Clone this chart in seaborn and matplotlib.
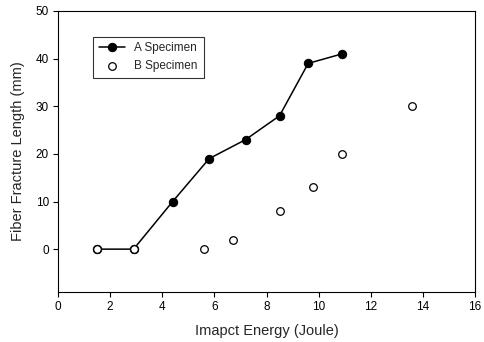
import matplotlib
matplotlib.use("Agg")
import matplotlib.pyplot as plt
import seaborn as sns
import pandas as pd

a_energy = [1.5, 2.9, 4.4, 5.8, 7.2, 8.5, 9.6, 10.9]
a_length = [0, 0, 10, 19, 23, 28, 39, 41]
b_energy = [1.5, 2.9, 5.6, 6.7, 8.5, 9.8, 10.9, 13.6]
b_length = [0, 0, 0, 2, 8, 13, 20, 30]
x_ticks = [0, 2, 4, 6, 8, 10, 12, 14, 16]
y_ticks = [0, 10, 20, 30, 40, 50]

sns.set_style("white")
plt.rcParams['font.family'] = ['Liberation Sans', 'DejaVu Sans']

fig = plt.figure(figsize=(4.84, 3.42), dpi=100)
ax = fig.add_axes([58/484, 1-292/342, (475-58)/484, (292-11)/342])

da = pd.DataFrame({"x": a_energy, "y": a_length})
db = pd.DataFrame({"x": b_energy, "y": b_length})

sns.lineplot(data=da, x="x", y="y", ax=ax, color="black", linewidth=1.1,
             marker="o", markersize=6, markerfacecolor="black",
             markeredgecolor="black", label="A Specimen", zorder=2)
sns.scatterplot(data=db, x="x", y="y", ax=ax, s=30, facecolor="white",
                edgecolor="black", linewidth=0.9, label="B Specimen", zorder=3)

ax.set_xlim(0, 16)
ax.set_ylim(-9, 50)
ax.set_xticks(x_ticks)
ax.set_yticks(y_ticks)
ax.tick_params(bottom=True, left=True, direction="out", length=3.5, width=0.8,
               labelsize=8.5, colors="black", pad=3)
for s in ax.spines.values():
    s.set_color("black")
    s.set_linewidth(0.8)
ax.set_xlabel("Imapct Energy (Joule)", fontsize=10.5, labelpad=8)
ax.set_ylabel("Fiber Fracture Length (mm)", fontsize=10.5, labelpad=8)

leg = ax.legend(loc="upper left", bbox_to_anchor=(0.07, 0.93), fontsize=8.5,
                frameon=True, fancybox=False, edgecolor="black",
                borderpad=0.5, handlelength=2.2)
leg.get_frame().set_linewidth(0.8)

fig.savefig("out.png", dpi=100)
